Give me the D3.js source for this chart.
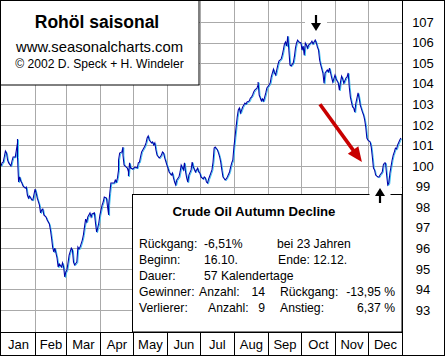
<!DOCTYPE html>
<html><head><meta charset="utf-8">
<script src="https://cdn.jsdelivr.net/npm/d3@7"></script>
<style>body{margin:0;background:#fff}svg{display:block}text{font-family:"Liberation Sans",Arial,sans-serif}</style>
</head><body><svg id="c" width="445" height="356"></svg>
<script>
const months = ["Jan","Feb","Mar","Apr","May","Jun","Jul","Aug","Sep","Oct","Nov","Dec"];
const monthDays = [31,28,31,30,31,30,31,31,30,31,30,31];
const yTicks = [93,94,95,96,97,98,99,100,101,102,103,104,105,106,107];
const days = [0,1,2,3,4,5,6,7,9,10,11,13,14,15,15,15,16,17,18,19,20,22,23,24,25,26,28,29,31,32,33,35,36,37,38,39,41,42,44,45,46,47,48,49,51,52,53,55,56,57,58,59,60,61,62,64,65,66,67,69,70,71,72,74,75,76,77,78,79,81,82,83,85,86,87,88,89,90,92,93,94,96,97,98,98,99,100,101,103,104,105,106,107,107,108,110,111,111,112,114,115,116,116,117,118,120,122,124,125,126,127,128,129,131,132,133,134,135,137,138,139,140,141,142,144,145,146,147,148,149,151,152,153,155,156,157,158,159,160,162,163,164,166,167,168,169,170,171,173,174,175,177,178,179,180,181,182,184,185,186,187,188,189,191,192,193,194,195,197,198,199,200,201,202,204,205,206,208,209,210,211,212,213,214,215,216,217,218,219,220,222,223,224,226,227,228,229,230,231,233,234,234,235,237,238,239,240,241,242,244,245,246,248,249,250,251,252,253,255,256,257,258,259,260,261,262,263,264,266,267,268,269,270,271,273,274,275,276,277,278,279,280,282,283,284,286,287,288,289,290,291,293,294,295,297,298,299,300,301,302,304,305,307,308,309,310,311,312,314,315,316,317,318,319,320,321,322,323,325,326,327,329,330,331,332,333,334,336,337,338,339,340,341,343,344,345,347,348,349,350,351,352,353,354,356,357,358,359,360,361,363,364];
const prices = [100.00,100.15,100.19,100.44,100.73,100.63,100.29,100.15,100.00,100.24,100.44,100.44,100.78,101.12,101.31,100.44,99.22,99.47,99.27,99.17,99.03,98.93,98.98,98.59,98.44,98.54,98.35,98.35,98.88,98.69,98.44,98.10,97.72,97.86,97.91,97.62,97.52,97.38,97.18,96.89,96.50,96.06,95.82,96.01,95.53,95.09,95.24,95.09,95.29,95.09,94.61,94.85,94.95,95.29,95.67,96.01,95.92,95.33,95.19,95.33,96.06,95.97,96.06,96.40,96.65,97.04,97.42,97.28,97.52,97.72,97.52,97.67,97.72,97.23,96.79,96.99,97.23,97.62,98.10,98.25,98.49,98.44,98.01,97.62,98.10,98.69,99.17,99.17,99.17,99.32,99.22,99.42,99.81,100.29,100.63,100.68,100.92,100.53,100.05,99.95,99.90,99.71,99.51,100.15,99.90,99.85,99.95,99.90,100.15,100.19,100.44,100.68,100.78,100.97,101.12,101.36,101.46,101.26,101.12,101.17,101.02,101.12,100.78,100.53,100.39,100.44,100.53,100.68,100.63,100.39,100.05,99.90,99.71,99.56,99.66,99.42,99.22,99.08,99.32,99.47,99.71,100.05,99.81,100.15,99.71,99.42,99.22,99.56,99.81,100.19,99.95,99.71,99.81,99.90,99.71,99.66,99.47,99.37,99.47,99.42,99.22,99.17,99.37,99.66,99.81,100.19,100.87,100.92,100.78,100.63,100.44,100.19,99.81,99.47,99.32,99.37,99.47,99.71,99.95,100.15,100.29,100.92,101.41,101.90,102.38,102.72,102.82,102.58,102.72,102.87,103.06,103.01,103.11,103.16,103.30,103.35,103.45,103.60,103.69,103.79,103.94,104.08,103.45,103.16,103.26,103.16,103.35,103.55,103.79,103.94,104.03,104.33,104.71,104.52,104.42,104.67,104.91,105.10,105.20,105.39,105.64,105.93,106.03,105.83,106.32,105.64,104.91,104.86,105.01,105.30,105.73,105.98,106.12,106.03,105.98,105.64,105.83,105.39,105.98,105.88,105.73,105.88,105.98,106.07,105.93,106.12,105.98,105.78,105.64,105.15,104.91,104.52,104.03,104.52,104.67,104.57,104.76,104.52,104.28,104.08,104.42,104.23,104.03,103.69,104.08,104.37,104.23,104.03,104.28,104.33,104.52,103.84,103.35,103.11,102.87,102.82,102.62,103.06,103.55,103.30,102.96,102.62,102.48,102.24,101.90,101.36,101.26,101.17,100.92,100.44,99.90,99.81,99.56,99.47,99.47,99.56,99.71,100.05,100.15,100.15,99.56,99.08,99.17,99.66,100.29,100.53,100.68,100.87,100.83,101.02,101.26,101.36];
const titleLines = ["Rohöl saisonal","www.seasonalcharts.com","© 2002 D. Speck + H. Windeler"];
const infoTitle = "Crude Oil Autumn Decline";
const declineStartDay = 288, declineEndDay = 345;
const redArrowFrom = [290.3, 103.0], redArrowTo = [328.5, 100.19];

const svg = d3.select("#c");
const W = 445, H = 356;
const plotL = 1, plotR = 402, plotB = 332;
const x = d3.scaleLinear().domain([0,365]).range([plotL, plotR]);
const y = d3.scaleLinear().domain([92,108]).range([330.6, 1.4]);

svg.append("rect").attr("width",W).attr("height",H).attr("fill","#fff");

// gridlines
const cum = d3.cumsum(monthDays);
const bounds = Array.from(cum).slice(0,11);
const g = svg.append("g").attr("stroke","#aaa").attr("stroke-width",1);
yTicks.forEach(t=>{
  const yy = Math.round(y(t))+0.5;
  g.append("line").attr("x1",0).attr("x2",plotR).attr("y1",yy).attr("y2",yy);
});
bounds.forEach(b=>{
  const xx = Math.round(x(b))+0.5;
  g.append("line").attr("x1",xx).attr("x2",xx).attr("y1",0).attr("y2",plotB);
});

// title box
svg.append("rect").attr("x",0.5).attr("y",0.5).attr("width",198.5).attr("height",84.5).attr("fill","#fff").attr("stroke","#000");
svg.append("text").attr("x",97).attr("y",28).attr("text-anchor","middle").attr("font-size",17.5).attr("font-weight","bold").text(titleLines[0]);
svg.append("text").attr("x",99.5).attr("y",52).attr("text-anchor","middle").attr("font-size",14.8).text(titleLines[1]);
svg.append("text").attr("x",99.5).attr("y",68).attr("text-anchor","middle").attr("font-size",12.1).text(titleLines[2]);

// info box
svg.append("rect").attr("x",132.5).attr("y",194.5).attr("width",plotR-132.5).attr("height",plotB-194.5).attr("fill","#fff").attr("stroke","#000");

// white backgrounds for arrows
const xs = Math.round(x(declineStartDay)), xe = Math.round(x(declineEndDay));
svg.append("rect").attr("x",xs-12).attr("y",4).attr("width",22).attr("height",28).attr("fill","#fff");
svg.append("rect").attr("x",xe-10.5).attr("y",185.5).attr("width",plotR-(xe-10.5)-0.5).attr("height",8.5).attr("fill","#fff");
svg.append("rect").attr("x",xe-10.5).attr("y",185.5).attr("width",21).attr("height",20).attr("fill","#fff");

// price line
const line = d3.line().x((d,i)=>x(days[i])).y((d,i)=>y(prices[i]));
const idx = d3.range(days.length);
svg.append("path").datum(idx).attr("d",line).attr("fill","none").attr("stroke","#3cc4f2").attr("stroke-width",1).attr("transform","translate(0.9,0.7)");
svg.append("path").datum(idx).attr("d",line).attr("fill","none").attr("stroke","#0000a8").attr("stroke-width",1.05);

// black arrows
function vArrow(cx, y1, y2, dir){ // dir 1 = down
  const tip = dir>0 ? y2 : y1;
  const sh = dir>0 ? [y1, y2-4] : [y1+4, y2];
  svg.append("line").attr("x1",cx).attr("x2",cx).attr("y1",sh[0]).attr("y2",sh[1]).attr("stroke","#000").attr("stroke-width",2.2);
  const b = tip - dir*8;
  svg.append("path").attr("d",`M${cx-5},${b}L${cx+5},${b}L${cx},${tip}Z`).attr("fill","#000");
}
vArrow(xs-1, 15, 31, 1);
vArrow(xe, 188, 203, -1);

// red arrow
const p0 = [x(redArrowFrom[0]), y(redArrowFrom[1])], p1 = [x(redArrowTo[0]), y(redArrowTo[1])];
const dx = p1[0]-p0[0], dy = p1[1]-p0[1], L = Math.hypot(dx,dy), ux = dx/L, uy = dy/L;
const hb = [p1[0]-15*ux, p1[1]-15*uy];
svg.append("line").attr("x1",p0[0]).attr("y1",p0[1]).attr("x2",hb[0]+2*ux).attr("y2",hb[1]+2*uy).attr("stroke","#c80000").attr("stroke-width",3.6);
svg.append("path").attr("d",`M${hb[0]-6.5*uy},${hb[1]+6.5*ux}L${hb[0]+6.5*uy},${hb[1]-6.5*ux}L${p1[0]},${p1[1]}Z`).attr("fill","#c80000");

// info text
svg.append("text").attr("x",254).attr("y",215.5).attr("text-anchor","middle").attr("font-size",13.2).attr("font-weight","bold").text(infoTitle);
const fs = 12.2;
const rows = [
  [[139,"Rückgang:"],[204,"-6,51%"],[277,"bei 23 Jahren"]],
  [[139,"Beginn:"],[204,"16.10."],[278,"Ende: 12.12."]],
  [[139,"Dauer:"],[204,"57 Kalendertage"]],
  [[139,"Gewinner:"],[199,"Anzahl:"],[280,"Rückgang:"]],
  [[139,"Verlierer:"],[208,"Anzahl:"],[280,"Anstieg:"]]
];
const rowY = [248,264,279.5,295.5,312];
rows.forEach((r,i)=>r.forEach(c=>svg.append("text").attr("x",c[0]).attr("y",rowY[i]).attr("font-size",fs).text(c[1])));
const rightVals = [[265,rowY[3],"14"],[265,rowY[4],"9"],[395,rowY[3],"-13,95 %"],[395,rowY[4],"6,37 %"]];
rightVals.forEach(c=>svg.append("text").attr("x",c[0]).attr("y",c[1]).attr("font-size",fs).attr("text-anchor","end").text(c[2]));

// month row
svg.append("line").attr("x1",0).attr("x2",plotR).attr("y1",plotB+0.5).attr("y2",plotB+0.5).attr("stroke","#000");
bounds.forEach(b=>{
  const xx = Math.round(x(b))+0.5;
  svg.append("line").attr("x1",xx).attr("x2",xx).attr("y1",plotB).attr("y2",H).attr("stroke","#000");
});
const starts = [0].concat(bounds);
months.forEach((m,i)=>{
  const mid = (x(starts[i]) + x(cum[i]))/2;
  svg.append("text").attr("x",mid+0.5).attr("y",349).attr("text-anchor","middle").attr("font-size",13).text(m);
});

// right axis
svg.append("line").attr("x1",plotR+0.5).attr("x2",plotR+0.5).attr("y1",0).attr("y2",H).attr("stroke","#000");
yTicks.forEach(t=>{
  svg.append("text").attr("x",423).attr("y",y(t)).attr("dy","0.36em").attr("text-anchor","middle").attr("font-size",13).text(t);
});

// outer border
svg.append("rect").attr("x",0.5).attr("y",0.5).attr("width",W-1).attr("height",H-1).attr("fill","none").attr("stroke","#000");
</script></body></html>
